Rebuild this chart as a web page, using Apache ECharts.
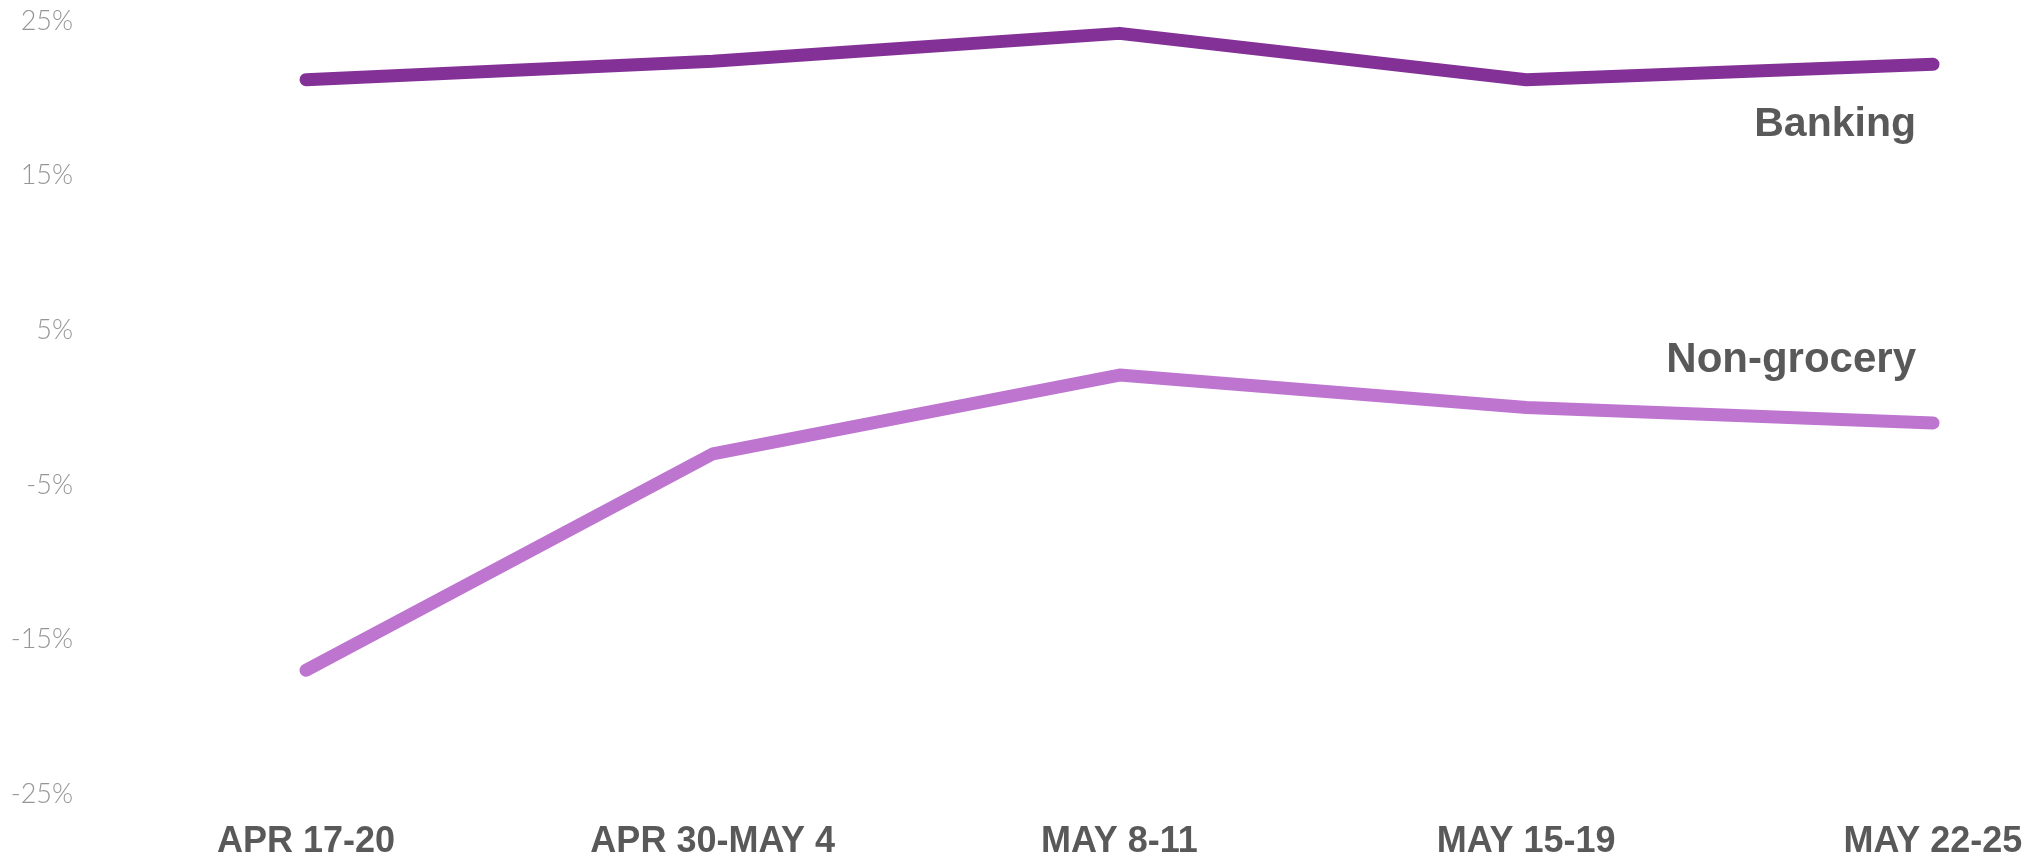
<!DOCTYPE html>
<html>
<head>
<meta charset="utf-8">
<script src="https://cdn.jsdelivr.net/npm/echarts@6/dist/echarts.min.js"></script>
<style>
html,body{margin:0;padding:0;background:#fff;}
#chart{width:2029px;height:860px;}
</style>
</head>
<body>
<div id="chart"></div>
<script>
var categories = ['APR 17-20', 'APR 30-MAY 4', 'MAY 8-11', 'MAY 15-19', 'MAY 22-25'];
var banking = [21.2, 22.4, 24.2, 21.2, 22.2];
var nonGrocery = [-17.0, -3.0, 2.1, 0.0, -1.0];
var yTicks = [-25, -15, -5, 5, 15, 25];

var chart = echarts.init(document.getElementById('chart'), null, {renderer: 'canvas'});
chart.setOption({
  animation: false,
  backgroundColor: '#ffffff',
  grid: {left: 306, right: 96, top: 21, bottom: 66, containLabel: false},
  xAxis: {
    type: 'category',
    data: categories,
    boundaryGap: false,
    axisLine: {show: false},
    axisTick: {show: false},
    splitLine: {show: false},
    axisLabel: {
      margin: 30,
      interval: 0,
      hideOverlap: false,
      color: '#595959',
      fontFamily: 'Liberation Sans, Arial, sans-serif',
      fontWeight: 'bold',
      fontSize: 36
    }
  },
  yAxis: {
    type: 'value',
    min: -25,
    max: 25,
    axisLine: {show: false},
    axisTick: {show: false},
    splitLine: {show: false},
    axisLabel: {
      customValues: yTicks,
      margin: 233,
      color: '#969696',
      fontFamily: 'Lato, sans-serif',
      fontWeight: 300,
      fontSize: 27,
      formatter: function (v) { return v + '%'; }
    }
  },
  series: [
    {
      name: 'Banking',
      type: 'line',
      data: banking,
      showSymbol: false,
      lineStyle: {color: '#833197', width: 13, cap: 'round', join: 'round'},
      itemStyle: {color: '#833197'},
      endLabel: {
        show: true,
        formatter: '{a}',
        distance: 0,
        align: 'right',
        verticalAlign: 'middle',
        offset: [-17, 60],
        color: '#595959',
        fontFamily: 'Liberation Sans, Arial, sans-serif',
        fontWeight: 'bold',
        fontSize: 41
      }
    },
    {
      name: 'Non-grocery',
      type: 'line',
      data: nonGrocery,
      showSymbol: false,
      lineStyle: {color: '#be75d0', width: 13, cap: 'round', join: 'round'},
      itemStyle: {color: '#be75d0'},
      endLabel: {
        show: true,
        formatter: '{a}',
        distance: 0,
        align: 'right',
        verticalAlign: 'middle',
        offset: [-17, -63],
        color: '#595959',
        fontFamily: 'Liberation Sans, Arial, sans-serif',
        fontWeight: 'bold',
        fontSize: 42
      }
    }
  ]
});
</script>
</body>
</html>
